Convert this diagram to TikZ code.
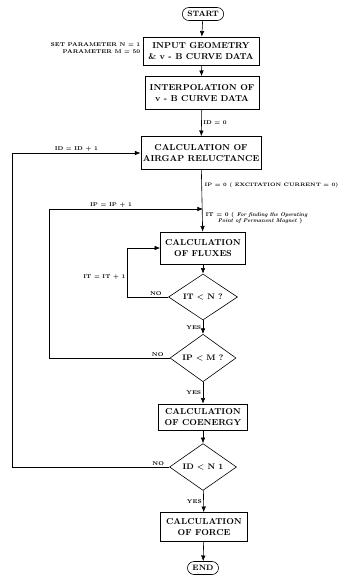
\documentclass[tikz,border=0pt]{standalone}
\usetikzlibrary{shapes.geometric, arrows.meta}
\begin{document}
\begin{tikzpicture}[x=1pt, y=-1pt,
    proc/.style={rectangle, draw=black, semithick, align=center, inner xsep=2pt, inner ysep=2pt,
        font=\fontsize{8.6}{10.5}\selectfont\bfseries},
    term/.style={rectangle, rounded corners=6.5pt, draw=black, semithick, minimum height=13pt,
        inner xsep=5pt, inner ysep=1pt, font=\fontsize{7.8}{8}\selectfont\bfseries},
    decision/.style={diamond, draw=black, semithick, inner sep=0pt,
        font=\fontsize{8}{8}\selectfont\bfseries},
    flow/.style={draw, semithick, -{Latex[length=2mm, width=1.6mm]}},
    lbl/.style={font=\fontsize{5.5}{6.5}\selectfont\bfseries, inner sep=1.5pt}
]
\useasboundingbox (0,0) rectangle (342,578);

% --- Bloques del diagrama ---
\node[term] (start) at (203,14) {START};
\node[proc, minimum width=116pt, minimum height=28pt] (input) at (201,51)
    {INPUT GEOMETRY\\\& v - B CURVE DATA};
\node[proc, minimum width=114pt, minimum height=33pt] (interp) at (202,93)
    {INTERPOLATION OF\\v - B CURVE DATA};
\node[proc, minimum width=116pt, minimum height=33pt] (airgap) at (201,153)
    {CALCULATION OF\\AIRGAP RELUCTANCE};
\node[proc, minimum width=85pt, minimum height=32pt] (fluxes) at (203,248)
    {CALCULATION\\OF FLUXES};
\node[decision, minimum width=69pt, minimum height=31pt] (itn) at (203,297) {IT < N ?};
\node[decision, minimum width=66pt, minimum height=36pt] (ipm) at (203,358) {IP < M ?};
\node[proc, minimum width=89pt, minimum height=26pt] (coen) at (203,417)
    {CALCULATION\\OF COENERGY};
\node[decision, minimum width=67pt, minimum height=35pt] (idn) at (203,467) {ID < N 1};
\node[proc, minimum width=87pt, minimum height=29pt] (force) at (204,527)
    {CALCULATION\\OF FORCE};
\node[term] (end) at (203,568) {END};

% --- Textos sueltos ---
\node[lbl, align=right, anchor=east] (param) at (142,48)
    {SET PARAMETER N = 1\\PARAMETER M = 50};
\node[lbl, anchor=west, inner sep=0.5pt, font=\fontsize{4.9}{6}\selectfont\bfseries] (ipini) at (204,185)
    {IP = 0 ( EXCITATION CURRENT = 0)};
\node[lbl, anchor=west, align=left] (itini) at (204,218)
    {IT = 0 ( \textit{For finding the Operating}\\\hspace*{2.2em}\textit{Point of Permanent Magnet} )};
\coordinate (ipj) at (203,209);

% --- Flujo principal ---
\draw[flow] (start) -- (input);
\draw[flow] (input) -- (interp);
\draw[flow] (interp) -- node[lbl, right] {ID = 0} (airgap);
\draw[flow] (airgap) -- (fluxes);
\draw[flow] (fluxes) -- (itn);
\draw[flow] (itn) -- node[lbl, left] {YES} (ipm);
\draw[flow] (ipm) -- node[lbl, left] {YES} (coen);
\draw[flow] (coen) -- (idn);
\draw[flow] (idn) -- node[lbl, left] {YES} (force);
\draw[flow] (force) -- (end);

% --- Lazos de retorno ---
\draw[flow] (itn.west) -- node[lbl, above, pos=0.3] {NO} ++(-41,0)
    |- node[lbl, left, pos=0.2] {IT = IT + 1} (fluxes.west);
\draw[flow] (ipm.west) -- node[lbl, above, pos=0.1] {NO} ++(-120,0)
    |- node[lbl, above, pos=0.7] {IP = IP + 1} (ipj);
\draw[flow] (idn.west) -- node[lbl, above, pos=0.07] {NO} ++(-157,0)
    |- node[lbl, above, pos=0.75] {ID = ID + 1} (airgap.west);

\end{tikzpicture}
\end{document}
